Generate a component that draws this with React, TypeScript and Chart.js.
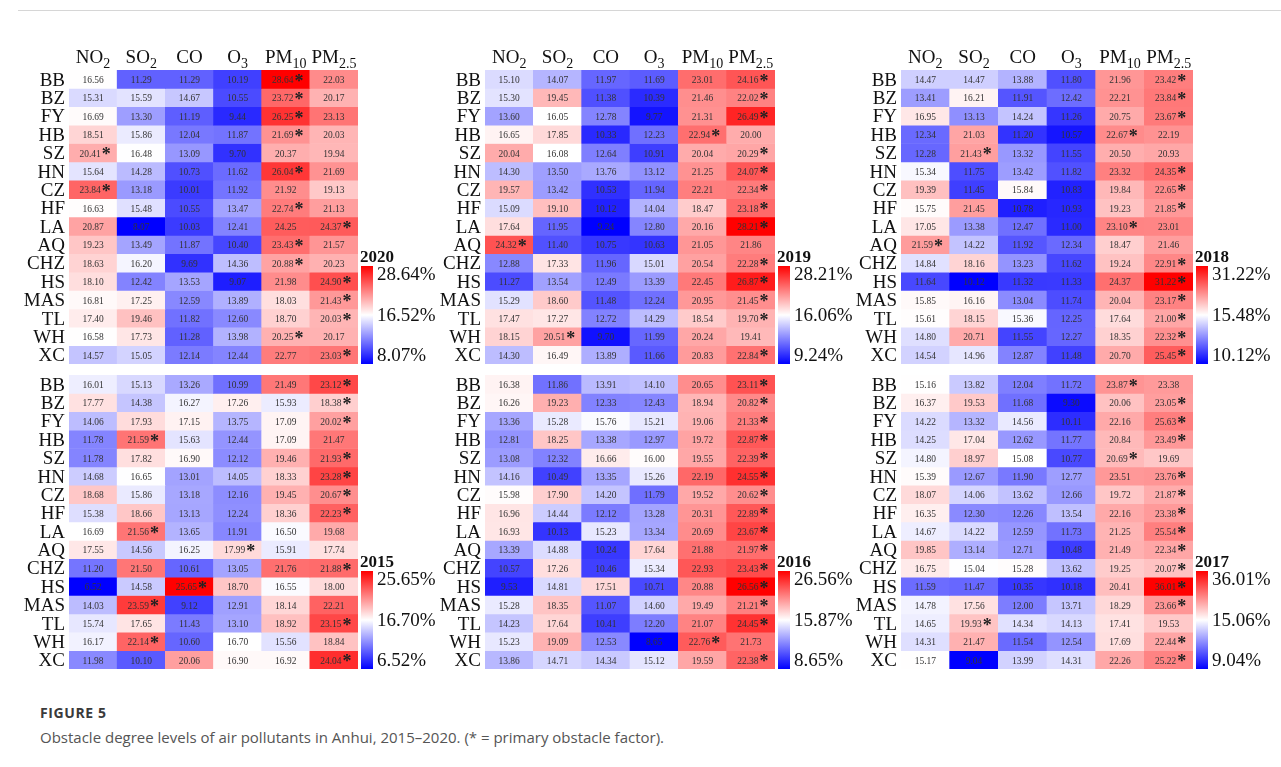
import React, { useEffect, useRef } from "react";
import { Chart, registerables } from "chart.js";

Chart.register(...registerables);

const cities = ["BB", "BZ", "FY", "HB", "SZ", "HN", "CZ", "HF", "LA", "AQ", "CHZ", "HS", "MAS", "TL", "WH", "XC"];
const pollutantMain = ["NO", "SO", "CO", "O", "PM", "PM"];
const pollutantSub = ["2", "2", "", "3", "10", "2.5"];

const values2020 = [
  [16.56, 11.29, 11.29, 10.19, 28.64, 22.03],
  [15.31, 15.59, 14.67, 10.55, 23.72, 20.17],
  [16.69, 13.30, 11.19, 9.44, 26.25, 23.13],
  [18.51, 15.86, 12.04, 11.87, 21.69, 20.03],
  [20.41, 16.48, 13.09, 9.70, 20.37, 19.94],
  [15.64, 14.28, 10.73, 11.62, 26.04, 21.69],
  [23.84, 13.18, 10.01, 11.92, 21.92, 19.13],
  [16.63, 15.48, 10.55, 13.47, 22.74, 21.13],
  [20.87, 8.07, 10.03, 12.41, 24.25, 24.37],
  [19.23, 13.49, 11.87, 10.40, 23.43, 21.57],
  [18.63, 16.20, 9.69, 14.36, 20.88, 20.23],
  [18.10, 12.42, 13.53, 9.07, 21.98, 24.90],
  [16.81, 17.25, 12.59, 13.89, 18.03, 21.43],
  [17.40, 19.46, 11.82, 12.60, 18.70, 20.03],
  [16.58, 17.73, 11.28, 13.98, 20.25, 20.17],
  [14.57, 15.05, 12.14, 12.44, 22.77, 23.03],
];

const values2019 = [
  [15.10, 14.07, 11.97, 11.69, 23.01, 24.16],
  [15.30, 19.45, 11.38, 10.39, 21.46, 22.02],
  [13.60, 16.05, 12.78, 9.77, 21.31, 26.49],
  [16.65, 17.85, 10.33, 12.23, 22.94, 20.00],
  [20.04, 16.08, 12.64, 10.91, 20.04, 20.29],
  [14.30, 13.50, 13.76, 13.12, 21.25, 24.07],
  [19.57, 13.42, 10.53, 11.94, 22.21, 22.34],
  [15.09, 19.10, 10.12, 14.04, 18.47, 23.18],
  [17.64, 11.95, 9.24, 12.80, 20.16, 28.21],
  [24.32, 11.40, 10.75, 10.63, 21.05, 21.86],
  [12.88, 17.33, 11.96, 15.01, 20.54, 22.28],
  [11.27, 13.54, 12.49, 13.39, 22.45, 26.87],
  [15.29, 18.60, 11.48, 12.24, 20.95, 21.45],
  [17.47, 17.27, 12.72, 14.29, 18.54, 19.70],
  [18.15, 20.51, 9.70, 11.99, 20.24, 19.41],
  [14.30, 16.49, 13.89, 11.66, 20.83, 22.84],
];

const values2018 = [
  [14.47, 14.47, 13.88, 11.80, 21.96, 23.42],
  [13.41, 16.21, 11.91, 12.42, 22.21, 23.84],
  [16.95, 13.13, 14.24, 11.26, 20.75, 23.67],
  [12.34, 21.03, 11.20, 10.57, 22.67, 22.19],
  [12.28, 21.43, 13.32, 11.55, 20.50, 20.93],
  [15.34, 11.75, 13.42, 11.82, 23.32, 24.35],
  [19.39, 11.45, 15.84, 10.83, 19.84, 22.65],
  [15.75, 21.45, 10.78, 10.93, 19.23, 21.85],
  [17.05, 13.38, 12.47, 11.00, 23.10, 23.01],
  [21.59, 14.22, 11.92, 12.34, 18.47, 21.46],
  [14.84, 18.16, 13.23, 11.62, 19.24, 22.91],
  [11.64, 10.12, 11.32, 11.33, 24.37, 31.22],
  [15.85, 16.16, 13.04, 11.74, 20.04, 23.17],
  [15.61, 18.15, 15.36, 12.25, 17.64, 21.00],
  [14.80, 20.71, 11.55, 12.27, 18.35, 22.32],
  [14.54, 14.96, 12.87, 11.48, 20.70, 25.45],
];

const values2015 = [
  [16.01, 15.13, 13.26, 10.99, 21.49, 23.12],
  [17.77, 14.38, 16.27, 17.26, 15.93, 18.38],
  [14.06, 17.93, 17.15, 13.75, 17.09, 20.02],
  [11.78, 21.59, 15.63, 12.44, 17.09, 21.47],
  [11.78, 17.82, 16.90, 12.12, 19.46, 21.93],
  [14.68, 16.65, 13.01, 14.05, 18.33, 23.28],
  [18.68, 15.86, 13.18, 12.16, 19.45, 20.67],
  [15.38, 18.66, 13.13, 12.24, 18.36, 22.23],
  [16.69, 21.56, 13.65, 11.91, 16.50, 19.68],
  [17.55, 14.56, 16.25, 17.99, 15.91, 17.74],
  [11.20, 21.50, 10.61, 13.05, 21.76, 21.88],
  [6.52, 14.58, 25.65, 18.70, 16.55, 18.00],
  [14.03, 23.59, 9.12, 12.91, 18.14, 22.21],
  [15.74, 17.65, 11.43, 13.10, 18.92, 23.15],
  [16.17, 22.14, 10.60, 16.70, 15.56, 18.84],
  [11.98, 10.10, 20.06, 16.90, 16.92, 24.04],
];

const values2016 = [
  [16.38, 11.86, 13.91, 14.10, 20.65, 23.11],
  [16.26, 19.23, 12.33, 12.43, 18.94, 20.82],
  [13.36, 15.28, 15.76, 15.21, 19.06, 21.33],
  [12.81, 18.25, 13.38, 12.97, 19.72, 22.87],
  [13.08, 12.32, 16.66, 16.00, 19.55, 22.39],
  [14.16, 10.49, 13.35, 15.26, 22.19, 24.55],
  [15.98, 17.90, 14.20, 11.79, 19.52, 20.62],
  [16.96, 14.44, 12.12, 13.28, 20.31, 22.89],
  [16.93, 10.13, 15.23, 13.34, 20.69, 23.67],
  [13.39, 14.88, 10.24, 17.64, 21.88, 21.97],
  [10.57, 17.26, 10.46, 15.34, 22.93, 23.43],
  [9.53, 14.81, 17.51, 10.71, 20.88, 26.56],
  [15.28, 18.35, 11.07, 14.60, 19.49, 21.21],
  [14.23, 17.64, 10.41, 12.20, 21.07, 24.45],
  [15.23, 19.09, 12.53, 8.65, 22.76, 21.73],
  [13.86, 14.71, 14.34, 15.12, 19.59, 22.38],
];

const values2017 = [
  [15.16, 13.82, 12.04, 11.72, 23.87, 23.38],
  [16.37, 19.53, 11.68, 9.30, 20.06, 23.05],
  [14.22, 13.32, 14.56, 10.11, 22.16, 25.63],
  [14.25, 17.04, 12.62, 11.77, 20.84, 23.49],
  [14.80, 18.97, 15.08, 10.77, 20.69, 19.69],
  [15.39, 12.67, 11.90, 12.77, 23.51, 23.76],
  [18.07, 14.06, 13.62, 12.66, 19.72, 21.87],
  [16.35, 12.30, 12.26, 13.54, 22.16, 23.38],
  [14.67, 14.22, 12.59, 11.73, 21.25, 25.54],
  [19.85, 13.14, 12.71, 10.48, 21.49, 22.34],
  [16.75, 15.04, 15.28, 13.62, 19.25, 20.07],
  [11.59, 11.47, 10.35, 10.18, 20.41, 36.01],
  [14.78, 17.56, 12.00, 13.71, 18.29, 23.66],
  [14.65, 19.93, 14.34, 14.13, 17.41, 19.53],
  [14.31, 21.47, 11.54, 12.54, 17.69, 22.44],
  [15.17, 9.04, 13.99, 14.31, 22.26, 25.22],
];

// colour scale: [min, centre, max]
const scale2020 = [8.07, 16.52, 28.64];
const scale2019 = [9.24, 16.06, 28.21];
const scale2018 = [10.12, 15.48, 31.22];
const scale2015 = [6.52, 16.70, 25.65];
const scale2016 = [8.65, 15.87, 26.56];
const scale2017 = [9.04, 15.06, 36.01];

const SERIF = '"Liberation Serif", "Times New Roman", serif';

function cellColor(v: number, s: number[]) {
  const [lo, mid, hi] = s;
  if (v <= mid) {
    const t = Math.max(0, Math.min(1, (v - lo) / (mid - lo)));
    const c = Math.round(255 * t);
    return `rgb(${c},${c},255)`;
  }
  const t = Math.max(0, Math.min(1, (v - mid) / (hi - mid)));
  const c = Math.round(255 * (1 - t));
  return `rgb(255,${c},${c})`;
}

type PanelProps = {
  year: string;
  values: number[][];
  scale: number[];
  gridLeft: number;
  gridTop: number;
  gridWidth: number;
  gridHeight: number;
  header: boolean;
};

const PAD_L = 62;
const PAD_R = 96;

function Panel(props: PanelProps) {
  const ref = useRef<HTMLCanvasElement | null>(null);
  const padTop = props.header ? 34 : 8;
  const canvasW = props.gridWidth + PAD_L + PAD_R;
  const canvasH = props.gridHeight + padTop + 4;

  useEffect(() => {
    const canvas = ref.current;
    if (!canvas) return;
    const { values, scale, year, header } = props;

    const plugin = {
      id: "heatText" + year,
      afterDatasetsDraw(chart: any) {
        const ctx = chart.ctx as CanvasRenderingContext2D;
        const xs = chart.scales.x;
        const ys = chart.scales.y;
        const area = chart.chartArea;
        const sx = 0.86;
        ctx.save();
        // cell values and stars (star = primary obstacle factor = row maximum)
        values.forEach((row, r) => {
          const maxVal = Math.max(...row);
          const cy = ys.getPixelForValue(r + 0.5);
          row.forEach((v, c) => {
            const cx = xs.getPixelForValue(c);
            const txt = v.toFixed(2);
            ctx.font = `11px ${SERIF}`;
            const w = ctx.measureText(txt).width * sx;
            const isMax = v === maxVal;
            const shift = isMax ? -3 : 0;
            ctx.save();
            ctx.translate(cx + shift, cy + 1);
            ctx.scale(sx, 1);
            ctx.textAlign = "center";
            ctx.textBaseline = "middle";
            ctx.fillStyle = "#333333";
            ctx.fillText(txt, 0, 0);
            ctx.restore();
            if (isMax) {
              ctx.font = `bold 18px ${SERIF}`;
              ctx.textAlign = "left";
              ctx.textBaseline = "middle";
              ctx.fillStyle = "#222222";
              ctx.fillText("*", cx + shift + w / 2 + 1, cy + 3);
            }
          });
        });
        // row labels
        ctx.font = `19px ${SERIF}`;
        ctx.fillStyle = "#111111";
        ctx.textAlign = "right";
        ctx.textBaseline = "alphabetic";
        cities.forEach((name, r) => {
          const cy = ys.getPixelForValue(r + 0.5);
          ctx.fillText(name, area.left - 4, cy + 6.5);
        });
        // headers
        if (header) {
          pollutantMain.forEach((m, c) => {
            const cx = xs.getPixelForValue(c);
            ctx.font = `19px ${SERIF}`;
            const wm = ctx.measureText(m).width;
            ctx.font = `14px ${SERIF}`;
            const ws = ctx.measureText(pollutantSub[c]).width;
            const x0 = cx - (wm + ws) / 2;
            const base = area.top - 7;
            ctx.textAlign = "left";
            ctx.font = `19px ${SERIF}`;
            ctx.fillText(m, x0, base);
            ctx.font = `14px ${SERIF}`;
            ctx.fillText(pollutantSub[c], x0 + wm, base + 5);
          });
        }
        // colour bar
        const bx = area.right + 3;
        const bw = 12;
        const bBot = area.bottom;
        const bTop = area.bottom - 98;
        const grad = ctx.createLinearGradient(0, bTop, 0, bBot);
        grad.addColorStop(0, "rgb(255,0,0)");
        grad.addColorStop(0.5, "rgb(255,255,255)");
        grad.addColorStop(1, "rgb(0,0,255)");
        ctx.fillStyle = grad;
        ctx.fillRect(bx, bTop, bw, bBot - bTop);
        ctx.fillStyle = "#111111";
        ctx.font = `bold 17px ${SERIF}`;
        ctx.textAlign = "left";
        ctx.textBaseline = "alphabetic";
        ctx.fillText(year, bx - 1, bTop - 4);
        ctx.font = `19px ${SERIF}`;
        const lx = bx + bw + 4;
        ctx.textBaseline = "middle";
        ctx.fillText(scale[2].toFixed(2) + "%", lx, bTop + 9);
        ctx.fillText(scale[1].toFixed(2) + "%", lx, (bTop + bBot) / 2 + 1);
        ctx.fillText(scale[0].toFixed(2) + "%", lx, bBot - 8);
        ctx.restore();
      },
    };

    const chart = new Chart(canvas, {
      type: "bar",
      data: {
        labels: pollutantMain.map((m, i) => m + pollutantSub[i]),
        datasets: values.map((row, r) => ({
          data: row.map(() => [r, r + 1]),
          backgroundColor: row.map((v) => cellColor(v, scale)),
          borderWidth: 0,
          grouped: false,
          categoryPercentage: 1,
          barPercentage: 1,
        })) as any,
      },
      options: {
        animation: false,
        responsive: false,
        maintainAspectRatio: false,
        devicePixelRatio: 1,
        events: [],
        layout: { padding: { left: PAD_L, right: PAD_R, top: padTop, bottom: 4 } },
        plugins: { legend: { display: false }, tooltip: { enabled: false } },
        scales: {
          x: { display: false, offset: true },
          y: { display: false, min: 0, max: cities.length, reverse: true },
        },
      },
      plugins: [plugin],
    });
    return () => chart.destroy();
  }, []);

  return (
    <canvas
      ref={ref}
      width={canvasW}
      height={canvasH}
      style={{
        position: "absolute",
        left: props.gridLeft - PAD_L,
        top: props.gridTop - padTop,
        width: canvasW,
        height: canvasH,
      }}
    />
  );
}

export default function App() {
  const topY = 70;
  const botY = 374.5;
  const gh = 294;
  return (
    <div
      style={{
        position: "fixed",
        left: 0,
        top: 0,
        width: 1281,
        height: 767,
        background: "#ffffff",
        overflow: "hidden",
      }}
    >
      <div style={{ position: "absolute", left: 18, right: 0, top: 10, height: 1, background: "#d6d6d6" }} />
      <Panel year="2020" values={values2020} scale={scale2020} gridLeft={69} gridTop={topY} gridWidth={289} gridHeight={gh} header={true} />
      <Panel year="2019" values={values2019} scale={scale2019} gridLeft={484.5} gridTop={topY} gridWidth={290.5} gridHeight={gh} header={true} />
      <Panel year="2018" values={values2018} scale={scale2018} gridLeft={900.5} gridTop={topY} gridWidth={292} gridHeight={gh} header={true} />
      <Panel year="2015" values={values2015} scale={scale2015} gridLeft={69} gridTop={botY} gridWidth={289} gridHeight={gh} header={false} />
      <Panel year="2016" values={values2016} scale={scale2016} gridLeft={484.5} gridTop={botY} gridWidth={290.5} gridHeight={gh} header={false} />
      <Panel year="2017" values={values2017} scale={scale2017} gridLeft={900.5} gridTop={botY} gridWidth={292} gridHeight={gh} header={false} />
      <div
        style={{
          position: "absolute",
          left: 40,
          top: 703,
          fontFamily: '"Open Sans", sans-serif',
          fontWeight: 700,
          fontSize: 14,
          letterSpacing: 0.6,
          color: "#3a3a3a",
        }}
      >
        FIGURE 5
      </div>
      <div
        style={{
          position: "absolute",
          left: 40,
          top: 727,
          fontFamily: '"Open Sans", sans-serif',
          fontSize: 15,
          color: "#555555",
        }}
      >
        Obstacle degree levels of air pollutants in Anhui, 2015–2020. (* = primary obstacle factor).
      </div>
    </div>
  );
}
